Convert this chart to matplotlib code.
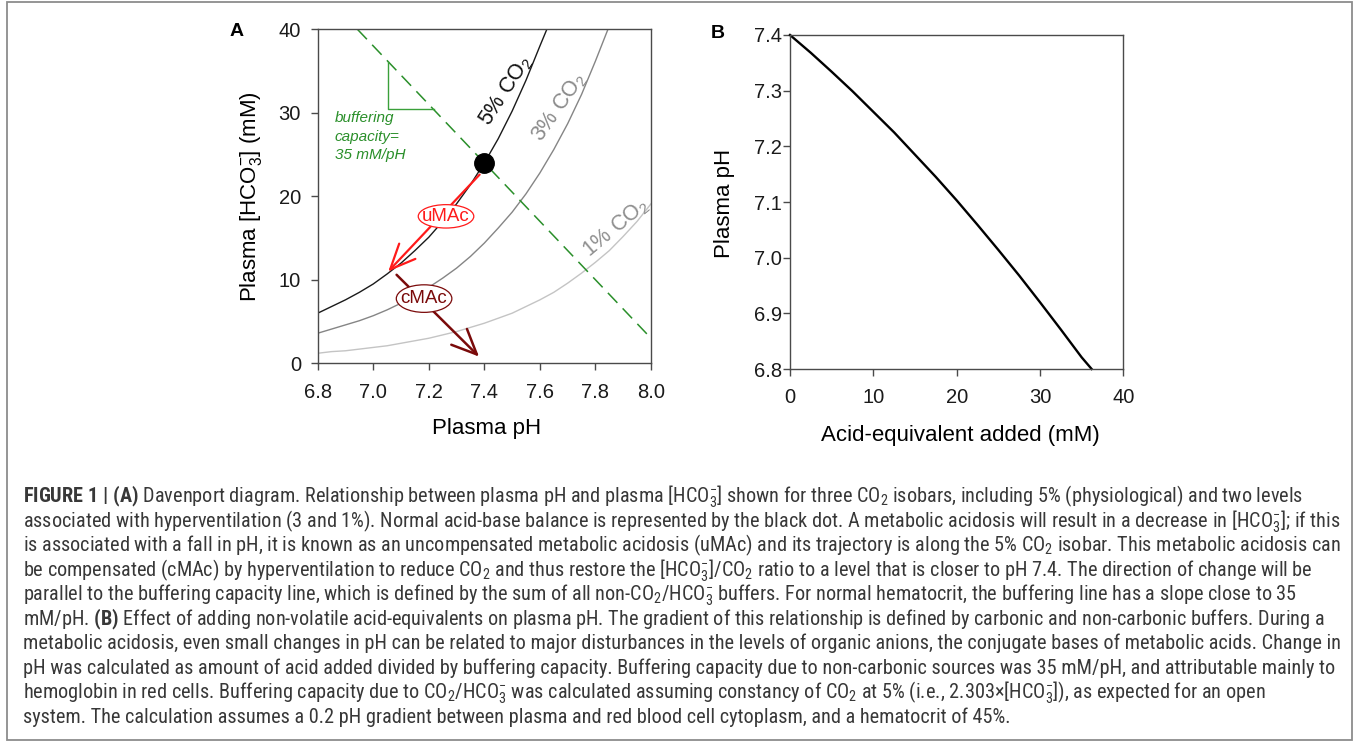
import matplotlib
matplotlib.use('Agg')
import matplotlib.pyplot as plt
from matplotlib import font_manager as fm
from matplotlib.patches import Rectangle, Ellipse

# ---------------- data ----------------
# CO2 isobars (pH, [HCO3-] mM)
ph_5 = [6.80, 6.85, 6.90, 6.95, 7.00, 7.05, 7.10, 7.15, 7.20, 7.25, 7.30, 7.35,
        7.40, 7.45, 7.50, 7.55, 7.60, 7.625]
hco3_5 = [6.0, 6.8, 7.6, 8.5, 9.5, 10.7, 12.0, 13.5, 15.1, 17.0, 19.1, 21.4,
          24.0, 26.9, 30.2, 33.9, 38.0, 40.0]
ph_3 = [6.80, 6.85, 6.90, 6.95, 7.00, 7.05, 7.10, 7.15, 7.20, 7.25, 7.30, 7.35,
        7.40, 7.45, 7.50, 7.55, 7.60, 7.65, 7.70, 7.75, 7.80, 7.845]
hco3_3 = [3.6, 4.1, 4.6, 5.1, 5.7, 6.4, 7.2, 8.1, 9.1, 10.2, 11.4, 12.8,
          14.4, 16.2, 18.1, 20.3, 22.8, 25.6, 28.7, 32.2, 36.2, 40.0]
ph_1 = [6.80, 6.85, 6.90, 6.95, 7.00, 7.05, 7.10, 7.15, 7.20, 7.25, 7.30, 7.35,
        7.40, 7.45, 7.50, 7.55, 7.60, 7.65, 7.70, 7.75, 7.80, 7.85, 7.90, 7.95, 8.00]
hco3_1 = [1.2, 1.4, 1.5, 1.7, 1.9, 2.1, 2.4, 2.7, 3.0, 3.4, 3.8, 4.3,
          4.8, 5.4, 6.0, 6.8, 7.6, 8.5, 9.6, 10.8, 12.1, 13.5, 15.2, 17.0, 19.1]

# buffering capacity line (35 mM/pH) and slope triangle
buf_ph = [6.943, 8.00]
buf_hco3 = [40.0, 3.0]
tri_ph = [7.054, 7.054, 7.217]
tri_hco3 = [36.1, 30.4, 30.4]

# normal state and trajectories
normal_ph, normal_hco3 = 7.40, 24.0
umac_start = (7.383, 22.6)
umac_end = (7.054, 11.0)
cmac_start = (7.084, 10.6)
cmac_end = (7.381, 0.8)

# panel B: pH vs acid added
acid_added = [0, 2.5, 5, 7.5, 10, 12.5, 15, 17.5, 20, 22.5, 25, 27.5, 30, 32.5, 35, 36.2]
plasma_ph = [7.400, 7.368, 7.334, 7.299, 7.262, 7.225, 7.185, 7.145, 7.103, 7.059,
             7.014, 6.968, 6.920, 6.871, 6.821, 6.800]

xticks_a = [6.8, 7.0, 7.2, 7.4, 7.6, 7.8, 8.0]
yticks_a = [0, 10, 20, 30, 40]
xticks_b = [0, 10, 20, 30, 40]
yticks_b = [6.8, 6.9, 7.0, 7.1, 7.2, 7.3, 7.4]

caption_lines = [
    r"$\mathbf{FIGURE\ 1\ |\ (A)}$ Davenport diagram. Relationship between plasma pH and plasma [HCO$_\mathregular{3}^\mathregular{-}$] shown for three CO$_\mathregular{2}$ isobars, including 5% (physiological) and two levels",
    r"associated with hyperventilation (3 and 1%). Normal acid-base balance is represented by the black dot. A metabolic acidosis will result in a decrease in [HCO$_\mathregular{3}^\mathregular{-}$]; if this",
    r"is associated with a fall in pH, it is known as an uncompensated metabolic acidosis (uMAc) and its trajectory is along the 5% CO$_\mathregular{2}$ isobar. This metabolic acidosis can",
    r"be compensated (cMAc) by hyperventilation to reduce CO$_\mathregular{2}$ and thus restore the [HCO$_\mathregular{3}^\mathregular{-}$]/CO$_\mathregular{2}$ ratio to a level that is closer to pH 7.4. The direction of change will be",
    r"parallel to the buffering capacity line, which is defined by the sum of all non-CO$_\mathregular{2}$/HCO$_\mathregular{3}^\mathregular{-}$ buffers. For normal hematocrit, the buffering line has a slope close to 35",
    r"mM/pH. $\mathbf{(B)}$ Effect of adding non-volatile acid-equivalents on plasma pH. The gradient of this relationship is defined by carbonic and non-carbonic buffers. During a",
    r"metabolic acidosis, even small changes in pH can be related to major disturbances in the levels of organic anions, the conjugate bases of metabolic acids. Change in",
    r"pH was calculated as amount of acid added divided by buffering capacity. Buffering capacity due to non-carbonic sources was 35 mM/pH, and attributable mainly to",
    r"hemoglobin in red cells. Buffering capacity due to CO$_\mathregular{2}$/HCO$_\mathregular{3}^\mathregular{-}$ was calculated assuming constancy of CO$_\mathregular{2}$ at 5% (i.e., 2.303$\times$[HCO$_\mathregular{3}^\mathregular{-}$]), as expected for an open",
    r"system. The calculation assumes a 0.2 pH gradient between plasma and red blood cell cytoplasm, and a hematocrit of 45%.",
]
caption_line_ends = [1326, 1341, 1338, 1325, 1297, 1323, 1338, 1338, 1295, 1015]

# ---------------- fonts ----------------
names = {f.name for f in fm.fontManager.ttflist}
main_font = next((n for n in ['Liberation Sans', 'Arial', 'DejaVu Sans'] if n in names), 'DejaVu Sans')
cap_font = next((n for n in ['Liberation Sans Narrow', 'Roboto Condensed', 'Liberation Sans'] if n in names), main_font)
plt.rcParams['font.family'] = [main_font, 'DejaVu Sans']
plt.rcParams['mathtext.fontset'] = 'custom'
plt.rcParams['mathtext.rm'] = cap_font
plt.rcParams['mathtext.bf'] = cap_font + ':bold'
plt.rcParams['mathtext.it'] = cap_font + ':italic'

W, H = 1357, 742
fig = plt.figure(figsize=(W / 100, H / 100), dpi=100)
fig.patch.set_facecolor('white')

spine_col = '#4a4a4a'
tick_fs = 14.5
label_fs = 16


def style_axes(ax):
    for s in ax.spines.values():
        s.set_color(spine_col)
        s.set_linewidth(1.0)
    ax.tick_params(direction='out', length=5, width=1.0, color=spine_col,
                   labelsize=tick_fs, labelcolor='#1a1a1a', top=False, right=False)


# ---------------- panel A ----------------
axA = fig.add_axes([317.7 / W, 1 - 363.3 / H, 333.3 / W, 334 / H])
style_axes(axA)
axA.tick_params(axis='x', pad=9)
axA.tick_params(axis='y', pad=7)
axA.set_xlim(6.8, 8.0)
axA.set_ylim(0, 40)
axA.set_xticks(xticks_a)
axA.set_xticklabels([f"{v:.1f}" for v in xticks_a])
axA.set_yticks(yticks_a)

axA.plot(ph_1, hco3_1, color='#c4c4c4', lw=1.0)
axA.plot(ph_3, hco3_3, color='#858585', lw=1.0)
axA.plot(ph_5, hco3_5, color='#1a1a1a', lw=1.0)
axA.plot(buf_ph, buf_hco3, color='#2a8f2a', lw=1.1, dashes=(9, 5))
axA.plot(tri_ph, tri_hco3, color='#3aa03a', lw=1.0)

axA.annotate('', xy=umac_end, xytext=umac_start,
             arrowprops=dict(arrowstyle='->,head_length=0.9,head_width=0.4', color='#ff1a1a',
                             lw=1.6, mutation_scale=20, shrinkA=0, shrinkB=0))
axA.annotate('', xy=cmac_end, xytext=cmac_start,
             arrowprops=dict(arrowstyle='->,head_length=0.9,head_width=0.4', color='#7a0a0a',
                             lw=1.8, mutation_scale=20, shrinkA=0, shrinkB=0))
axA.plot([normal_ph], [normal_hco3], 'o', color='black', ms=14, zorder=5)

# ellipse labels
axA.add_patch(Ellipse((7.262, 17.6), 0.2, 2.8, fc='white', ec='#ff1a1a', lw=0.9, zorder=6))
axA.text(7.262, 17.6, 'uMAc', color='#ff1a1a', fontsize=13.5, ha='center', va='center', zorder=7)
axA.add_patch(Ellipse((7.183, 7.75), 0.2, 3.3, fc='white', ec='#7a0a0a', lw=0.9, zorder=6))
axA.text(7.183, 7.75, 'cMAc', color='#7a0a0a', fontsize=13.5, ha='center', va='center', zorder=7)

axA.text(7.48, 32.7, r'5% CO$_\mathregular{2}$', color='#111111', fontsize=15.5, rotation=57,
         ha='center', va='center', rotation_mode='anchor')
axA.text(7.669, 30.7, r'3% CO$_\mathregular{2}$', color='#8a8a8a', fontsize=15.5, rotation=55,
         ha='center', va='center', rotation_mode='anchor')
axA.text(7.873, 16.2, r'1% CO$_\mathregular{2}$', color='#8f8f8f', fontsize=15.5, rotation=40,
         ha='center', va='center', rotation_mode='anchor')
axA.text(6.862, 30.2, 'buffering\ncapacity=\n35 mM/pH', color='#2a8f2a', fontsize=11,
         style='italic', ha='left', va='top', linespacing=1.4)

axA.set_xlabel('Plasma pH', fontsize=label_fs)
axA.xaxis.set_label_coords(0.507, -0.194)
axA.xaxis.label.set_va('center')
axA.set_ylabel(r'Plasma [HCO$_\mathregular{3}^\mathregular{-}$] (mM)', fontsize=label_fs)
axA.yaxis.set_label_coords(-0.2, 0.499)
axA.yaxis.label.set_va('center')

fig.text(237 / W, 1 - 32 / H, 'A', fontsize=14, fontweight='bold', ha='center', va='center')

# ---------------- panel B ----------------
axB = fig.add_axes([790 / W, 1 - 369 / H, 333.3 / W, 334 / H])
style_axes(axB)
axB.tick_params(axis='x', pad=9)
axB.tick_params(axis='y', pad=1)
axB.set_xlim(0, 40)
axB.set_ylim(6.8, 7.4)
axB.set_xticks(xticks_b)
axB.set_yticks(yticks_b)
axB.set_yticklabels([f"{v:.1f}" for v in yticks_b])
axB.plot(acid_added, plasma_ph, color='black', lw=1.7, clip_on=False,
         solid_joinstyle='round')
axB.set_xlabel('Acid-equivalent added (mM)', fontsize=label_fs)
axB.xaxis.set_label_coords(0.51, -0.198)
axB.xaxis.label.set_va('center')
axB.set_ylabel('Plasma pH', fontsize=label_fs)
axB.yaxis.set_label_coords(-0.197, 0.497)
axB.yaxis.label.set_va('center')

fig.text(718 / W, 1 - 33 / H, 'B', fontsize=14, fontweight='bold', ha='center', va='center')

# ---------------- caption box ----------------
fig.patches.append(Rectangle((7 / W, 2 / H), (1352 - 7) / W, (740 - 2) / H,
                             transform=fig.transFigure, fill=False, ec='#8c8c8c', lw=1.3))

x0 = 23
base0 = 503.0
step = 24.4
cap_texts = []
for i, line in enumerate(caption_lines):
    t = fig.text(x0 / W, 1 - (base0 + i * step) / H, line, fontsize=14,
                 family=cap_font, color='#383838', ha='left', va='baseline')
    cap_texts.append(t)

fig.canvas.draw()
r = fig.canvas.get_renderer()
meas = sum(t.get_window_extent(r).width for t in cap_texts)
target = sum(e - x0 for e in caption_line_ends)
scale = target / meas
for t in cap_texts:
    t.set_fontsize(14 * scale)

fig.savefig('out.png', dpi=100, facecolor='white')
